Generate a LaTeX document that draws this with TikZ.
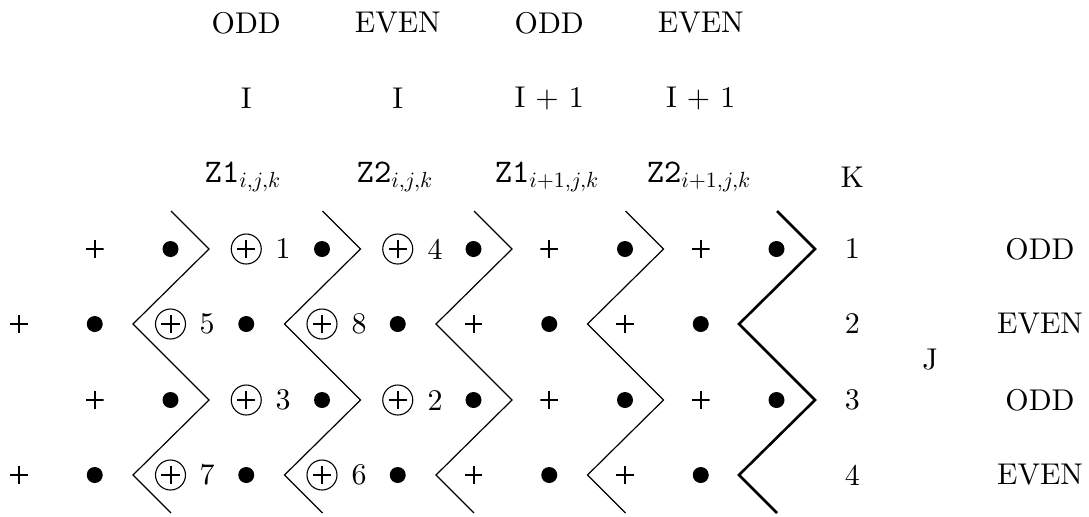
\documentclass[tikz,border=0pt]{standalone}
\usepackage{fontspec}
\setmainfont{lmroman10-regular.otf}
\setmonofont{lmmono10-regular.otf}
\newcommand{\zz}[2]{{\fontsize{16.5}{18}\selectfont\texttt{#1}}$_{#2}$}
\begin{document}
\begin{tikzpicture}[x=0.5pt,y=-0.5pt,
  txt/.style={inner sep=0pt,font=\fontsize{15}{18}\selectfont},
  dot/.style={circle,fill,inner sep=0pt,minimum size=8pt},
  pl/.style={inner sep=0pt,minimum size=8.8pt,
    path picture={\draw[line width=1pt] (path picture bounding box.west)--(path picture bounding box.east)
      (path picture bounding box.north)--(path picture bounding box.south);}},
  opl/.style={circle,draw,line width=0.55pt,inner sep=0pt,minimum size=15pt,
    path picture={\draw[line width=1pt]
      ([xshift=-4.6pt]path picture bounding box.center)--([xshift=4.6pt]path picture bounding box.center)
      ([yshift=-4.6pt]path picture bounding box.center)--([yshift=4.6pt]path picture bounding box.center);}},
  zig/.style={line width=0.6pt},
  zigthick/.style={line width=1.3pt}
]
\useasboundingbox (0,0) rectangle (1089,516);

% headers
\node[txt] (h1) at (246.25,23) {ODD};
\node[txt] (h2) at (397.75,23) {EVEN};
\node[txt] (h3) at (549.25,23) {ODD};
\node[txt] (h4) at (700.75,23) {EVEN};
\node[txt] (i1) at (246.25,98) {I};
\node[txt] (i2) at (397.75,98) {I};
\node[txt] (i3) at (549.25,98) {I + 1};
\node[txt] (i4) at (700.75,98) {I + 1};
\node[txt,anchor=base] (z1) at (243,182) {\zz{Z1}{i,j,k}};
\node[txt,anchor=base] (z2) at (395,182) {\zz{Z2}{i,j,k}};
\node[txt,anchor=base] (z3) at (547,182) {\zz{Z1}{i+1,j,k}};
\node[txt,anchor=base] (z4) at (699,182) {\zz{Z2}{i+1,j,k}};
\node[txt] (K) at (852.25,177) {K};
\node[txt] (J) at (930,360) {J};

% odd rows (1 and 3)
\foreach \r/\y/\na/\nb/\lab in {1/249/1/4/ODD, 3/400/3/2/ODD}{
  \node[pl]  (a\r-1) at (94.75,\y) {};
  \node[dot] (a\r-2) at (170.5,\y) {};
  \node[opl] (a\r-3) at (246.25,\y) {};
  \node[txt] (n\r-a) at (283,\y) {\na};
  \node[dot] (a\r-4) at (322,\y) {};
  \node[opl] (a\r-5) at (397.75,\y) {};
  \node[txt] (n\r-b) at (435,\y) {\nb};
  \node[dot] (a\r-6) at (473.5,\y) {};
  \node[pl]  (a\r-7) at (549.25,\y) {};
  \node[dot] (a\r-8) at (625,\y) {};
  \node[pl]  (a\r-9) at (700.75,\y) {};
  \node[dot] (a\r-10) at (776.5,\y) {};
  \node[txt] (k\r) at (852.25,\y) {\r};
  \node[txt] (l\r) at (1040,\y) {\lab};
}
% even rows (2 and 4)
\foreach \r/\y/\na/\nb/\lab in {2/324/5/8/EVEN, 4/475/7/6/EVEN}{
  \node[pl]  (a\r-0) at (19,\y) {};
  \node[dot] (a\r-1) at (94.75,\y) {};
  \node[opl] (a\r-2) at (170.5,\y) {};
  \node[txt] (n\r-a) at (207,\y) {\na};
  \node[dot] (a\r-3) at (246.25,\y) {};
  \node[opl] (a\r-4) at (322,\y) {};
  \node[txt] (n\r-b) at (359,\y) {\nb};
  \node[dot] (a\r-5) at (397.75,\y) {};
  \node[pl]  (a\r-6) at (473.5,\y) {};
  \node[dot] (a\r-7) at (549.25,\y) {};
  \node[pl]  (a\r-8) at (625,\y) {};
  \node[dot] (a\r-9) at (700.75,\y) {};
  \node[txt] (k\r) at (852.25,\y) {\r};
  \node[txt] (l\r) at (1040,\y) {\lab};
}

% zigzag lines
\foreach \m/\R/\L in {171/209/133, 322.5/360.5/284.5, 474/512/436, 625.5/663.5/587.5}{
  \draw[zig] (\m,211) -- (\R,249) -- (\L,324) -- (\R,400) -- (\L,475) -- (\m,513);
}
\draw[zigthick] (777,211) -- (815,249) -- (739,324) -- (815,400) -- (739,475) -- (777,513);
\end{tikzpicture}
\end{document}
